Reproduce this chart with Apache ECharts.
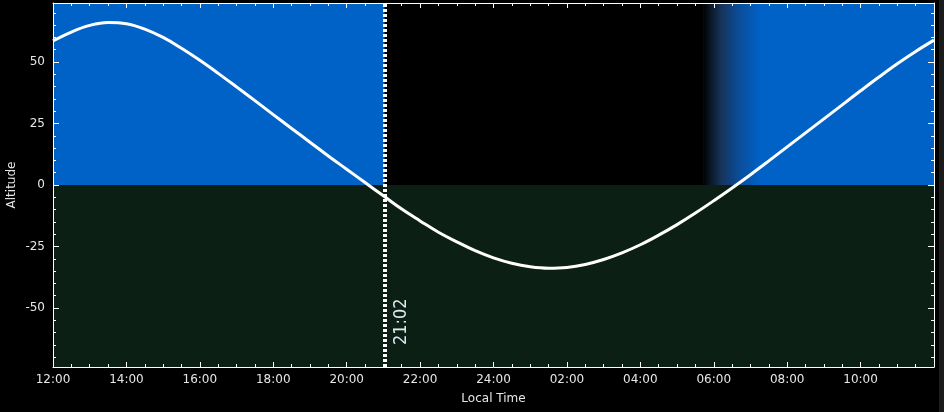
<!DOCTYPE html>
<html>
<head>
<meta charset="utf-8">
<script src="https://cdn.jsdelivr.net/npm/echarts@6/dist/echarts.min.js"></script>
<style>
html,body{margin:0;padding:0;background:#000;}
#chart{width:944px;height:412px;}
</style>
</head>
<body>
<div id="chart"></div>
<script>
// ---- data ----
const hours    = [12, 12.5, 13, 13.5, 14, 14.5, 15, 15.5, 16, 16.5, 17, 17.5, 18, 18.5, 19, 19.5, 20, 20.5, 21, 21.5, 22, 22.5, 23, 23.5, 24, 24.5,
                  25, 25.5, 26, 26.5, 27, 27.5, 28, 28.5, 29, 29.5, 30, 30.5, 31, 31.5, 32, 32.5, 33, 33.5, 34, 34.5, 35, 35.5, 36];
const altitude = [58.6, 62.2, 64.9, 66.1, 65.6, 63.4, 60.0, 55.6, 50.7, 45.4, 39.9, 34.3, 28.6, 23.0, 17.4, 11.8, 6.4, 1.0, -4.4, -9.8, -14.6, -19.2, -23.1, -26.7, -29.6, -31.8,
                  -33.2, -33.8, -33.5, -32.3, -30.3, -27.6, -24.3, -20.4, -16.1, -11.4, -6.4, -1.2, 4.2, 9.8, 15.5, 21.2, 26.9, 32.6, 38.3, 43.9, 49.3, 54.3, 58.9];
const xTickLabels = ['12:00','14:00','16:00','18:00','20:00','22:00','24:00','02:00','04:00','06:00','08:00','10:00'];
const yMajorTicks = [-50, -25, 0, 25, 50];
const yMinorTicks = [-70,-65,-60,-55,-45,-40,-35,-30,-20,-15,-10,-5,5,10,15,20,30,35,40,45,55,60,65,70];
const currentTime = 21.033;
const currentLabel = '21:02';
const nightStart = 21.033;
const dawnStart = 29.71;
const dawnEnd = 31.26;
const xMin = 12, xMax = 36, yMin = -74, yMax = 74;

// ---- styles ----
const DAY = '#0062c6';
const GROUND = '#0b1f15';
const NIGHT = '#000000';
const FG = '#e6e6e6';
const FONT = 'DejaVu Sans';

const chart = echarts.init(document.getElementById('chart'));

function xLabel(v) {
  const i = Math.round((v - xMin) / 2);
  return (i >= 0 && i < xTickLabels.length) ? xTickLabels[i] : '';
}

const xBase = {
  type: 'value', min: xMin, max: xMax, interval: 2, z: 10,
  axisLine: { show: true, onZero: false, lineStyle: { color: '#ffffff', width: 1 } },
  axisTick: { show: true, inside: true, length: 5, lineStyle: { color: '#ffffff' } },
  minorTick: { show: true, splitNumber: 4, length: 3, lineStyle: { color: '#ffffff' } },
  splitLine: { show: false }, minorSplitLine: { show: false }
};
const yBase = {
  type: 'value', min: yMin, max: yMax, z: 10,
  axisLine: { show: true, onZero: false, lineStyle: { color: '#ffffff', width: 1 } },
  splitLine: { show: false }
};

const option = {
  backgroundColor: '#000000',
  animation: false,
  grid: { left: 53, right: 10, top: 3, bottom: 45, containLabel: false, outerBoundsMode: 'none' },
  xAxis: [
    Object.assign({}, xBase, {
      position: 'bottom',
      name: 'Local Time', nameLocation: 'middle', nameGap: 26,
      nameTextStyle: { color: FG, fontFamily: FONT, fontSize: 12 },
      axisLabel: { show: true, color: FG, fontFamily: FONT, fontSize: 12, margin: 7, showMaxLabel: false, formatter: xLabel }
    }),
    Object.assign({}, xBase, { position: 'top', axisLabel: { show: false } })
  ],
  yAxis: [
    Object.assign({}, yBase, {
      position: 'left',
      axisLabel: { show: true, color: FG, fontFamily: FONT, fontSize: 12, margin: 8, customValues: yMajorTicks },
      axisTick: { show: true, inside: true, length: 6, customValues: yMajorTicks, lineStyle: { color: '#ffffff' } }
    }),
    Object.assign({}, yBase, {
      position: 'right',
      axisLabel: { show: false },
      axisTick: { show: true, inside: true, length: 6, customValues: yMajorTicks, lineStyle: { color: '#ffffff' } }
    }),
    Object.assign({}, yBase, {
      position: 'left', axisLine: { show: false, onZero: false },
      name: 'Altitude', nameLocation: 'middle', nameGap: 35, nameRotate: 90,
      nameTextStyle: { color: FG, fontFamily: FONT, fontSize: 12 },
      axisLabel: { show: false },
      axisTick: { show: true, inside: true, length: 3, customValues: yMinorTicks, lineStyle: { color: '#ffffff' } }
    }),
    Object.assign({}, yBase, {
      position: 'right', axisLine: { show: false, onZero: false },
      axisLabel: { show: false },
      axisTick: { show: true, inside: true, length: 3, customValues: yMinorTicks, lineStyle: { color: '#ffffff' } }
    })
  ],
  series: [
    {
      type: 'line', name: 'bg', data: [], z: 1, silent: true,
      markArea: {
        silent: true,
        data: [
          [{ xAxis: xMin, yAxis: 0, itemStyle: { color: DAY } }, { xAxis: xMax, yAxis: yMax }],
          [{ xAxis: xMin, yAxis: yMin, itemStyle: { color: GROUND } }, { xAxis: xMax, yAxis: 0 }],
          [{ xAxis: nightStart, yAxis: 0, itemStyle: { color: NIGHT } }, { xAxis: dawnStart, yAxis: yMax }],
          [{ xAxis: dawnStart, yAxis: 0, itemStyle: { color: {
              type: 'linear', x: 0, y: 0, x2: 1, y2: 0,
              colorStops: [
                { offset: 0, color: '#000000' },
                { offset: 0.12, color: '#0a1624' },
                { offset: 0.32, color: '#17335a' },
                { offset: 0.62, color: '#0b4c98' },
                { offset: 1, color: DAY }
              ] } } }, { xAxis: dawnEnd, yAxis: yMax }]
        ]
      }
    },
    {
      type: 'line', name: 'Altitude', z: 5,
      data: hours.map((h, i) => [h, altitude[i]]),
      smooth: 0.4, symbol: 'none',
      lineStyle: { color: '#ffffff', width: 3 },
      markLine: {
        silent: true, symbol: 'none', animation: false,
        lineStyle: { color: '#ffffff', width: 4, type: [3, 2], opacity: 1 },
        label: {
          show: true, formatter: currentLabel, position: 'insideStartBottom',
          color: '#dfe8f0', fontFamily: 'Liberation Sans Narrow, DejaVu Sans Condensed, Liberation Sans, sans-serif',
          fontSize: 18, distance: [22, 8]
        },
        data: [{ xAxis: currentTime }]
      }
    }
  ],
  graphic: [
    { type: 'rect', right: 0, top: 0, shape: { width: 5, height: 412 }, style: { fill: '#1a1a1a' }, z: 20 }
  ]
};
chart.setOption(option);
</script>
</body>
</html>
